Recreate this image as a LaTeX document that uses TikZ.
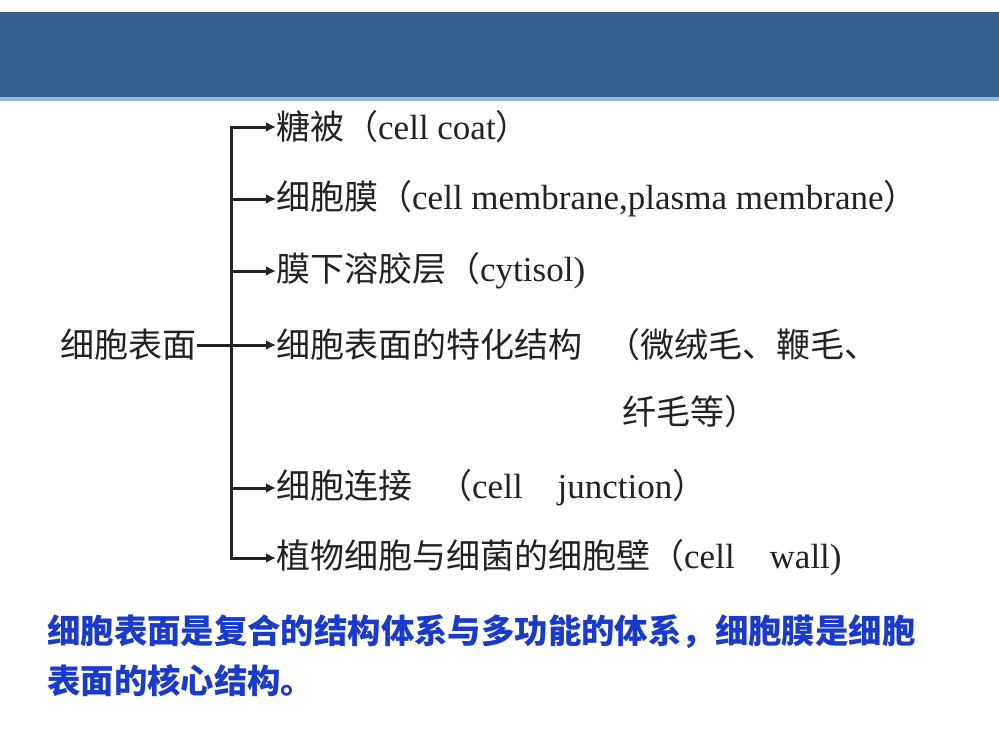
\documentclass[tikz,border=0pt]{standalone}
\usepackage{fontspec}
\setmainfont{Liberation Serif}
\newfontfamily\cjk{Noto Sans CJK SC}
\usetikzlibrary{arrows.meta}
\definecolor{bannerblue}{RGB}{54,97,143}
\definecolor{bannerline}{RGB}{148,180,216}
\definecolor{noteblue}{RGB}{26,58,204}
\definecolor{inkgray}{RGB}{34,34,34}
\newcommand\en[1]{{\rmfamily\fontsize{35}{35}\selectfont #1}}
\begin{document}
\begin{tikzpicture}[x=1pt,y=-1pt,
  item/.style={anchor=west,inner sep=0pt,text=inkgray,font=\cjk\fontsize{34}{34}\selectfont},
  note/.style={anchor=west,inner sep=0pt,text=noteblue,font=\cjk\bfseries\fontsize{33.4}{33.4}\selectfont},
  branch/.style={inkgray,line width=3pt,-{Latex[length=10pt,width=10pt]}}]
  \useasboundingbox[fill=white] (0,0) rectangle (999,750);
  % banner
  \fill[bannerblue] (0,12) rectangle (999,97);
  \fill[bannerline] (0,97) rectangle (999,101);
  % tree
  \node[item,anchor=east] (root) at (197,345) {细胞表面};
  \coordinate (trunk) at (231,345);
  \node[item] (coat) at (276,127) {糖被（\en{cell coat}）};
  \node[item] (membrane) at (276,199) {细胞膜（\en{cell membrane,plasma membrane}）};
  \node[item] (cytosol) at (276,271) {膜下溶胶层（\en{cytisol)}};
  \node[item] (special) at (276,345) {细胞表面的特化结构\hspace{24pt}（微绒毛、鞭毛、};
  \node[item] (specialb) at (622,412) {纤毛等）};
  \node[item] (junction) at (276,488) {细胞连接\hspace{26pt}（\en{cell\quad junction}）};
  \node[item] (wall) at (276,558) {植物细胞与细菌的细胞壁（\en{cell\quad wall)}};
  \draw[inkgray,line width=3pt] (root.east) -- (trunk);
  \draw[branch] (trunk) |- (coat.west);
  \draw[branch] (trunk |- membrane.west) -- (membrane.west);
  \draw[branch] (trunk |- cytosol.west) -- (cytosol.west);
  \draw[branch] (trunk) -- (special.west);
  \draw[branch] (trunk |- junction.west) -- (junction.west);
  \draw[branch] (trunk) |- (wall.west);
  % note
  \node[note] (note1) at (47,632) {细胞表面是复合的结构体系与多功能的体系，细胞膜是细胞};
  \node[note] (note2) at (47,681) {表面的核心结构。};
\end{tikzpicture}
\end{document}
